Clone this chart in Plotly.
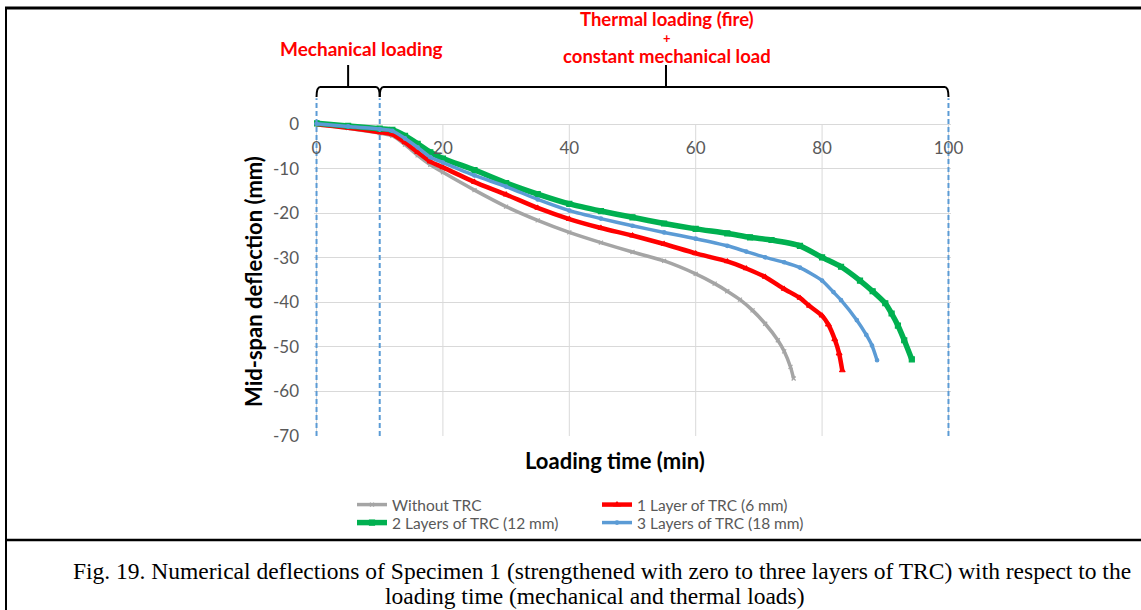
import plotly.graph_objects as go

# ---------------- data ----------------
t_without = [0, 5, 10, 12, 14, 16, 18, 20, 25, 30, 35, 40, 45, 50, 55, 60, 63, 65, 67, 69, 71, 73, 74, 75, 75.5]
d_without = [0, -0.9, -2.0, -2.6, -4.6, -7.0, -9.1, -10.8, -14.8, -18.5, -21.6, -24.3, -26.6, -28.7, -30.7,
             -33.6, -35.8, -37.5, -39.4, -41.8, -44.8, -48.5, -51.0, -54.5, -57.1]

t_1layer = [0, 5, 10, 12, 14, 16, 18, 20, 25, 30, 35, 40, 45, 50, 55, 60, 65, 68, 71, 74, 76.5, 78, 80, 81, 82,
            82.7, 83.2]
d_1layer = [0, -0.8, -1.8, -2.3, -4.1, -6.3, -8.4, -9.7, -13.0, -15.8, -18.8, -21.3, -23.3, -25.0, -26.9, -29.0,
            -30.8, -32.4, -34.3, -37.0, -39.0, -40.8, -43.0, -45.0, -48.3, -51.5, -55.3]

t_2layers = [0, 5, 10, 12, 14, 16, 18, 20, 25, 30, 35, 40, 45, 50, 55, 60, 65, 68.6, 72, 76.5, 80, 83, 86, 88, 90,
             91, 92, 93, 94.2]
d_2layers = [0.2, -0.4, -1.0, -1.3, -2.6, -4.4, -6.3, -7.7, -10.3, -13.2, -15.7, -17.9, -19.5, -20.9, -22.3, -23.5,
             -24.5, -25.4, -26.0, -27.3, -29.9, -32.0, -35.1, -37.5, -40.2, -42.5, -45.2, -48.5, -52.8]

t_3layers = [0, 5, 10, 12, 14, 16, 18, 20, 25, 30, 35, 40, 45, 50, 55, 60, 65, 68, 71, 74, 76.5, 80, 81.8, 83,
             85.5, 87, 87.9, 88.7]
d_3layers = [0.1, -0.5, -1.1, -1.5, -3.2, -5.2, -7.4, -8.6, -11.5, -14.0, -16.9, -19.4, -21.2, -22.8, -24.3, -25.7,
             -27.3, -28.6, -29.9, -31.0, -32.2, -35.1, -37.7, -39.5, -44.0, -47.3, -49.7, -53.0]

series_names = ["Without TRC", "1 Layer of TRC (6 mm)", "2 Layers of TRC (12 mm)", "3 Layers of TRC (18 mm)"]

x_ticks = [0, 20, 40, 60, 80, 100]
y_ticks = [0, -10, -20, -30, -40, -50, -60, -70]
y_ticktext = [str(v) for v in y_ticks]
phase_bounds = [0, 10, 100]          # minutes: start, end of mechanical loading, end of test
phase_ticks = [5, 55.3]              # brace centres (minutes)

# ---------------- layout geometry ----------------
W, H = 1141, 610
ML, MR, MT, MB = 314, 190, 93, 174
PW, PH = W - ML - MR, H - MT - MB
X_RANGE = [-0.4, 100.4]
Y_RANGE = [-70, 7]


def px(x):
    return (x - ML) / PW


def py(y):
    return (H - MB - y) / PH


FONT = "Lato"
GRID = "#d9d9d9"
TXT = "#595959"

fig = go.Figure()

styles = [
    dict(color="#a5a5a5", width=3.5, symbol="x-thin", msize=4, legend="legend"),
    dict(color="#ff0000", width=4.5, symbol="triangle-up", msize=5, legend="legend"),
    dict(color="#00b050", width=5.5, symbol="square", msize=5, legend="legend2"),
    dict(color="#5b9bd5", width=3.5, symbol="circle", msize=3.5, legend="legend2"),
]
data = [(t_without, d_without), (t_1layer, d_1layer), (t_2layers, d_2layers), (t_3layers, d_3layers)]

for (t, d), name, st in zip(data, series_names, styles):
    fig.add_trace(go.Scatter(
        x=t, y=d, name=name, mode="lines+markers", legend=st["legend"],
        line=dict(color=st["color"], width=st["width"], shape="spline", smoothing=0.6),
        marker=dict(symbol=st["symbol"], size=st["msize"], color=st["color"],
                    line=dict(color=st["color"], width=1.2)),
        hoverinfo="x+y+name",
    ))

# dashed phase boundaries
for b in phase_bounds:
    fig.add_trace(go.Scatter(
        x=[b, b], y=[Y_RANGE[0], 5.8], mode="lines", showlegend=False, hoverinfo="skip",
        line=dict(color="#5b9bd5", width=2, dash="5px,3px"),
    ))

shapes = []
# vertical grid lines (only below zero)
for v in x_ticks:
    shapes.append(dict(type="line", xref="x", yref="y", x0=v, x1=v, y0=Y_RANGE[0], y1=0,
                       line=dict(color=GRID, width=1), layer="below"))

# curly braces above the plot
yb = py(87)
ye = py(97)
ytop = py(65)
for (a, b), m in zip(zip(phase_bounds[:-1], phase_bounds[1:]), phase_ticks):
    r = 0.6
    path = (f"M {a},{ye} Q {a},{yb} {a + r},{yb} L {b - r},{yb} Q {b},{yb} {b},{ye} "
            f"M {m},{yb} L {m},{ytop}")
    shapes.append(dict(type="path", xref="x", yref="paper", path=path,
                       line=dict(color="black", width=2)))

# frame lines (table cell)
shapes.append(dict(type="line", xref="paper", yref="paper", x0=px(5), x1=px(W + 5), y0=py(8), y1=py(8),
                   line=dict(color="black", width=3)))
shapes.append(dict(type="line", xref="paper", yref="paper", x0=px(6), x1=px(6), y0=py(7), y1=py(H + 5),
                   line=dict(color="black", width=2)))
shapes.append(dict(type="line", xref="paper", yref="paper", x0=px(5), x1=px(W + 5), y0=py(540), y1=py(540),
                   line=dict(color="black", width=2.5)))


def ann(text, x, y, size, color, family=FONT, angle=0):
    return dict(text=text, x=px(x), y=py(y), xref="paper", yref="paper", xanchor="center",
                yanchor="middle", showarrow=False, textangle=angle,
                font=dict(family=family, size=size, color=color))


annotations = [
    ann("<b>Mechanical loading</b>", 361, 48, 19, "#ff0000"),
    ann("<b>Thermal loading (fire)</b>", 667, 18.5, 18.5, "#ff0000"),
    ann("<b>+</b>", 667, 37.5, 13, "#ff0000"),
    ann("<b>constant mechanical load</b>", 667, 55.5, 18.5, "#ff0000"),
    ann("<b>Mid-span deflection (mm)</b>", 253, 282, 22, "black", angle=-90),
    ann("<b>Loading time (min)</b>", 615, 460, 22, "black"),
    ann("Fig. 19. Numerical deflections of Specimen 1 (strengthened with zero to three layers of TRC) "
        "with respect to the", 602, 571, 23.5, "black", family="Liberation Serif"),
    ann("loading time (mechanical and thermal loads)", 595, 596, 23.5, "black", family="Liberation Serif"),
]

legend_common = dict(orientation="h", xanchor="left", yanchor="middle",
                     font=dict(family=FONT, size=15.5, color=TXT), entrywidth=200,
                     bgcolor="rgba(0,0,0,0)", tracegroupgap=0, itemwidth=30)

fig.update_layout(
    width=W, height=H,
    margin=dict(l=ML, r=MR, t=MT, b=MB, pad=0),
    paper_bgcolor="white", plot_bgcolor="white",
    font=dict(family=FONT, color=TXT),
    shapes=shapes, annotations=annotations,
    legend=dict(x=px(352), y=py(505), **legend_common),
    legend2=dict(x=px(352), y=py(523), **legend_common),
    xaxis=dict(range=X_RANGE, tickvals=x_ticks, showgrid=False, zeroline=False, showline=False,
               anchor="free", position=(0 - Y_RANGE[0]) / (Y_RANGE[1] - Y_RANGE[0]),
               ticks="", ticklabelstandoff=12, tickfont=dict(family=FONT, size=17, color=TXT)),
    yaxis=dict(range=Y_RANGE, tickvals=y_ticks, ticktext=y_ticktext, showgrid=True, gridcolor=GRID,
               gridwidth=1, zeroline=False, showline=False, ticks="", ticklabelstandoff=14,
               tickfont=dict(family=FONT, size=17, color=TXT)),
    showlegend=True,
)

fig.write_html("out.html")
